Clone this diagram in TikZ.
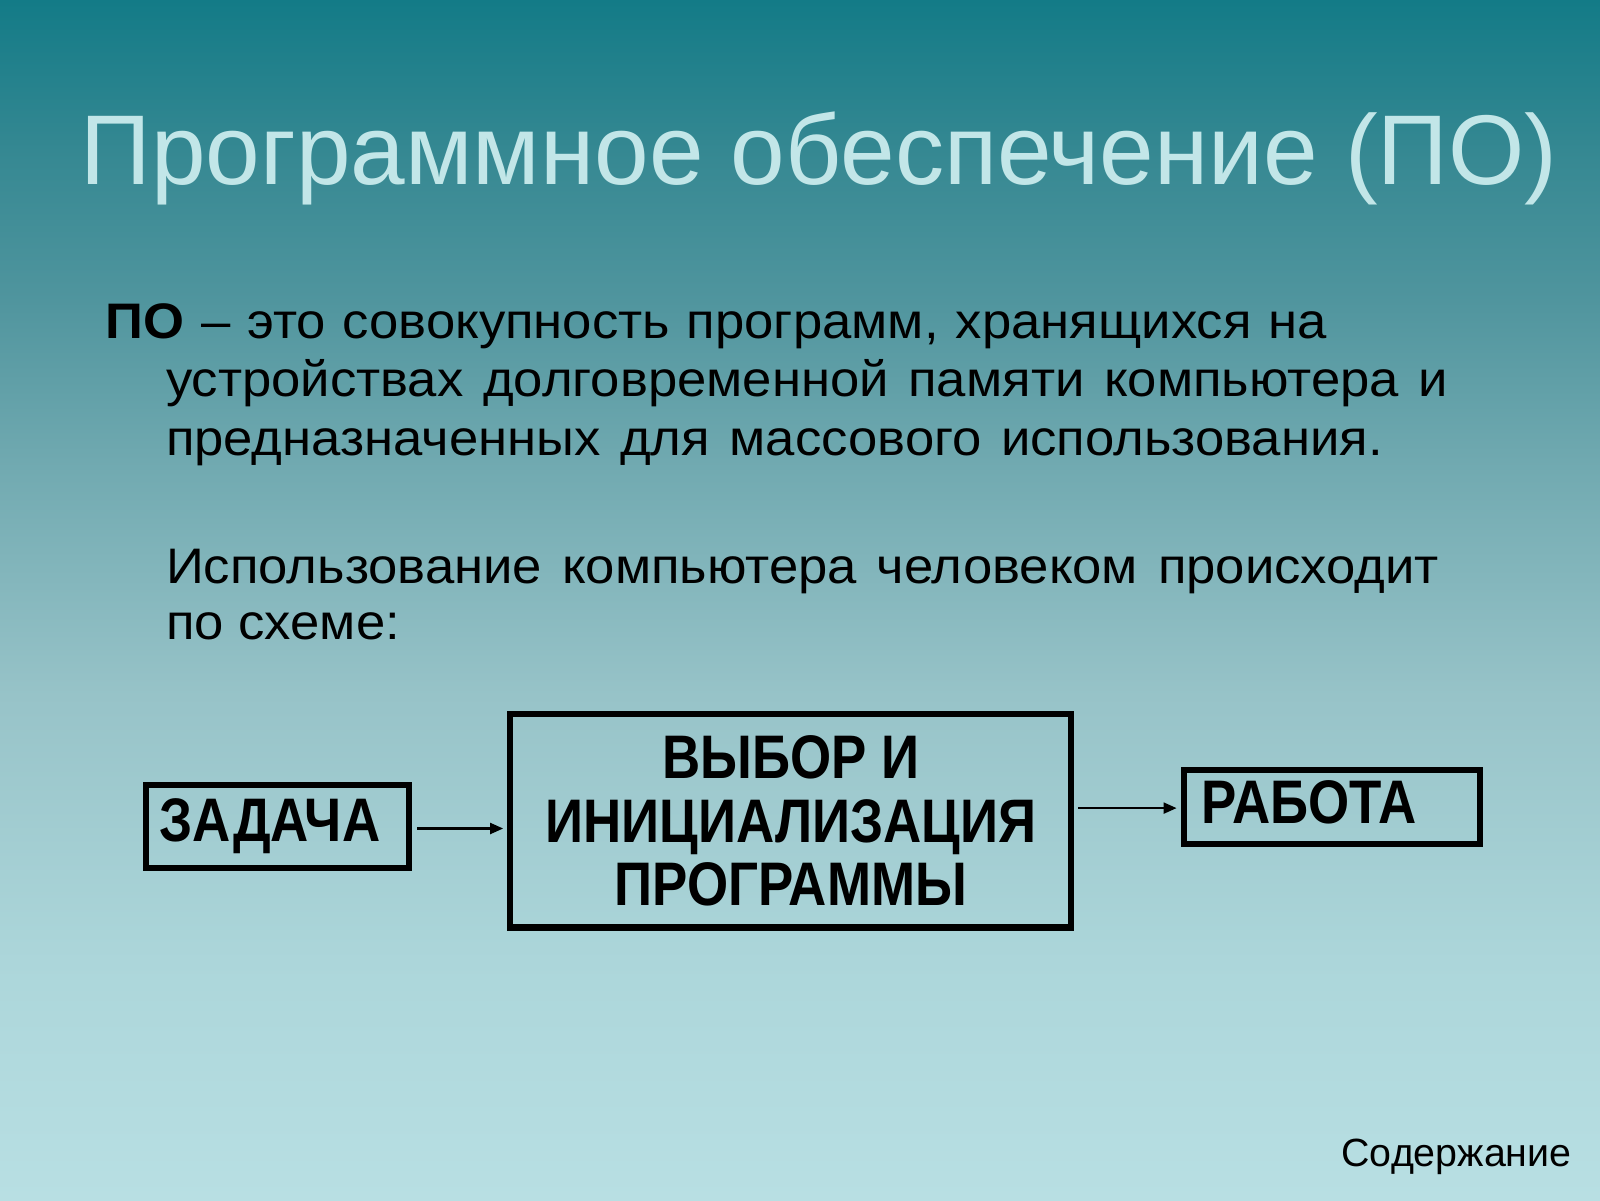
\documentclass[tikz,border=0pt]{standalone}
\usepackage{fontspec}
\setmainfont{Liberation Sans}
\newfontfamily\titlefont{Liberation Sans}[FakeStretch=0.99]
\newfontfamily\bodyfont{Liberation Sans}[FakeStretch=1.055]
\newfontfamily\boxfont{Liberation Sans}[FakeStretch=0.86]
\usetikzlibrary{arrows.meta,calc}
\definecolor{bg0}{HTML}{B8DFE3}
\definecolor{bg1}{HTML}{ACD6DA}
\definecolor{bg2}{HTML}{97C3C8}
\definecolor{bg3}{HTML}{70A9B0}
\definecolor{bg4}{HTML}{50959E}
\definecolor{bg5}{HTML}{358892}
\definecolor{bg6}{HTML}{137B87}
\definecolor{titlecol}{HTML}{C2E6E8}
\tikzset{
  txt/.style={inner sep=0pt, anchor=base west},
  body/.style={txt, font=\bodyfont\fontsize{14.2}{17}\selectfont},
  boxnode/.style={draw=black, line width=1.75pt, inner sep=0pt, align=center,
    font=\boxfont\bfseries\fontsize{17.5}{18}\selectfont},
  flow/.style={line width=0.6pt, -{Triangle[length=0.13cm,width=0.11cm]}}
}
\begin{document}
\begin{tikzpicture}
\useasboundingbox (0,0) rectangle (16,12);
% background
\shade[top color=bg1, bottom color=bg0] (0,0) rectangle (16,2.4);
\shade[top color=bg2, bottom color=bg1] (0,2.39) rectangle (16,5.06);
\shade[top color=bg3, bottom color=bg2] (0,5.05) rectangle (16,7.4);
\shade[top color=bg4, bottom color=bg3] (0,7.39) rectangle (16,9.0);
\shade[top color=bg5, bottom color=bg4] (0,8.99) rectangle (16,10.5);
\shade[top color=bg6, bottom color=bg5] (0,10.49) rectangle (16,12);
% title
\node[txt, text=titlecol, font=\titlefont\fontsize{28.2}{34}\selectfont] (title) at (0.80,10.157) {Программное обеспечение (ПО)};
% body
\node[body] (l1) at (1.051,8.612) {\makebox[12.21cm][s]{\textbf{ПО} – это совокупность программ, хранящихся на}};
\node[body] (l2) at (1.653,8.031) {\makebox[12.82cm][s]{устройствах долговременной памяти компьютера и}};
\node[body] (l3) at (1.653,7.449) {\makebox[12.17cm][s]{предназначенных для массового использования.}};
\node[body] (l4) at (1.653,6.163) {\makebox[12.73cm][s]{Использование компьютера человеком происходит}};
\node[body] (l5) at (1.653,5.602) {по схеме:};
% boxes
\node[boxnode, minimum width=2.633cm, minimum height=0.837cm] (zadacha) at (2.776,3.735) {\hspace*{-0.15cm}ЗАДАЧА};
\node[boxnode, minimum width=5.612cm, minimum height=2.133cm] (vybor) at (7.908,3.791) {ВЫБОР И\\ИНИЦИАЛИЗАЦИЯ\\ПРОГРАММЫ};
\node[boxnode, minimum width=2.959cm, minimum height=0.735cm, text width=2.6cm, align=left] (rabota) at (13.316,3.929) {\raisebox{0.11cm}{РАБОТА}};
% connectors
\draw[flow] ($(zadacha.east)+(0.05,-0.02)$) -- ($(vybor.west |- zadacha.east)+(-0.04,-0.02)$);
\draw[flow] ($(vybor.east |- rabota.west)+(0.04,-0.01)$) -- ($(rabota.west)+(-0.04,-0.01)$);
% footer
\node[txt, font=\fontsize{11.2}{13}\selectfont] (cont) at (13.408,0.337) {Содержание};
\end{tikzpicture}
\end{document}
